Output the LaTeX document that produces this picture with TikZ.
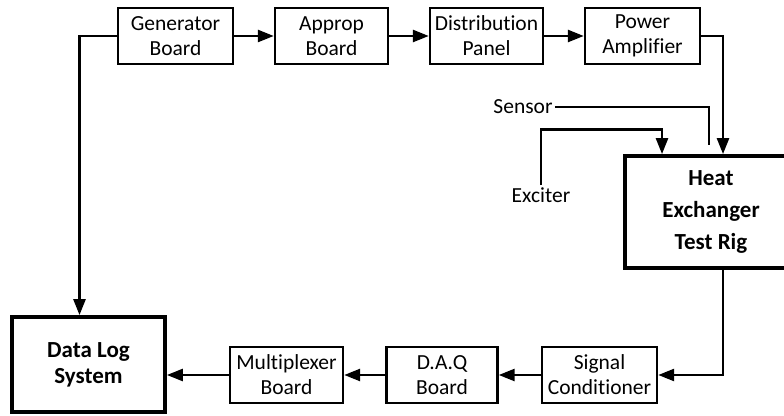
\documentclass[tikz,border=0pt]{standalone}
\usepackage{fontspec}
\setmainfont[Ligatures=NoCommon]{Carlito}
\usepackage{tikz}
\usetikzlibrary{arrows.meta, positioning, calc}

\begin{document}
\begin{tikzpicture}[
   x=1pt, y=1pt,
   font=\fontsize{21.5}{25}\selectfont,
   >={Triangle[length=16pt, width=12pt]},
   line width=2.6pt,
   box/.style={draw, line width=2.4pt, align=center, inner sep=0pt,
               minimum width=#1, minimum height=56pt},
   bigbox/.style={draw, line width=3.8pt, align=center, inner sep=0pt,
               font=\fontsize{23}{26}\selectfont\bfseries},
   lbl/.style={inner sep=1pt},
]
\useasboundingbox (0,0) rectangle (784,415);
\clip (0,0) rectangle (784,415);

% ---- top row ----
\node[box=115pt] (gen)  at (175.5,379) {Generator\\Board};
\node[box=113pt] (app)  at (331.5,379) {Approp\\Board};
\node[box=113pt] (dist) at (486.5,379) {Distribution\\Panel};
\node[box=115pt] (amp)  at (642.5,379) {Power\\Amplifier};

% ---- test rig ----
\node[bigbox, minimum width=172pt, minimum height=112pt] (heat) at (711,203)
   {Heat\\[6pt]Exchanger\\[6pt]Test Rig};
\node[lbl] (sensor)  at (523,308) {Sensor};
\node[lbl] (exciter) at (541,220) {Exciter};
\coordinate (sensend) at (709,270);

% ---- bottom row ----
\node[box=115pt] (sig) at (599.5,40) {Signal\\Conditioner};
\node[box=111pt] (daq) at (442,40)   {D.A.Q\\Board};
\node[box=113pt] (mux) at (286.5,40) {Multiplexer\\Board};
\node[bigbox, minimum width=153pt, minimum height=95pt] (dls) at (88.5,50.5)
   {Data Log\\System};

% ---- arrows ----
\draw[->] (gen.east) -- (app.west);
\draw[->] (app.east) -- (dist.west);
\draw[->] (dist.east) -- (amp.west);
\draw[->] (amp.east) -| ([xshift=12pt]heat.north);
\draw (sensor.east) -| (sensend);
\draw[->] (exciter.north) -- ++(0,56) -| ([xshift=-49pt]heat.north);
\draw[->] ([xshift=12pt]heat.south) |- (sig.east);
\draw[->] (sig.west) -- (daq.east);
\draw[->] (daq.west) -- (mux.east);
\draw[->] (mux.west) -- (mux.west -| dls.east);
\draw[->] (gen.west) -| ([xshift=-9pt]dls.north);
\end{tikzpicture}
\end{document}
